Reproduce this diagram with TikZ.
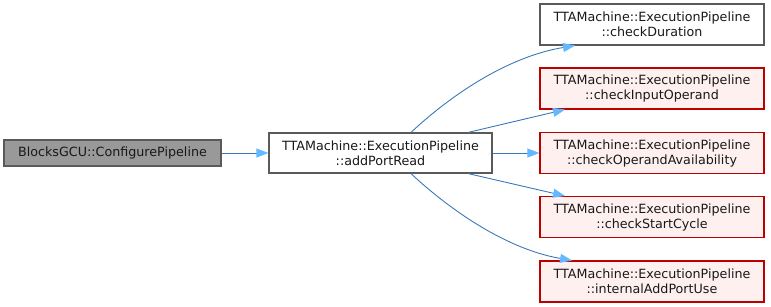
\documentclass[tikz,border=0pt]{standalone}
\usepackage{fontspec}
\setmainfont{DejaVu Sans}
\usetikzlibrary{arrows.meta}
\definecolor{edgeblue}{HTML}{3A78B8}
\definecolor{headblue}{HTML}{63B8FF}
\definecolor{boxgray}{HTML}{5A5A5A}
\definecolor{focusfill}{HTML}{999999}
\definecolor{trunc}{HTML}{BB0000}
\definecolor{truncfill}{HTML}{FFF0F0}
\tikzset{
  fn/.style={draw=boxgray, fill=white, line width=1.1pt, inner sep=0pt,
    align=center, text=black!90, font=\fontsize{12.7}{15}\selectfont},
  focus/.style={fn, fill=focusfill, minimum width=217pt, minimum height=26pt},
  callee/.style={fn, minimum width=224pt, minimum height=41pt},
  cut/.style={callee, draw=trunc, fill=truncfill},
  call/.style={draw=edgeblue, line width=0.9pt,
    -{Triangle[length=12pt,width=9pt,fill=headblue,color=headblue]}}
}
\begin{document}
\begin{tikzpicture}[x=1pt,y=-1pt]
  \useasboundingbox (0,0) rectangle (771,307);
  % caller and the function itself
  \node[focus] (gcu) at (112.5,153) {BlocksGCU::ConfigurePipeline};
  \node[fn, minimum width=223pt, minimum height=40pt] (apr) at (380.5,153)
    {TTAMachine::ExecutionPipeline\\::addPortRead};
  % callees
  \node[callee] (cd)  at (652,24.5)  {TTAMachine::ExecutionPipeline\\::checkDuration};
  \node[cut]    (cio) at (652,88.5)  {TTAMachine::ExecutionPipeline\\::checkInputOperand};
  \node[cut]    (coa) at (652,153)   {TTAMachine::ExecutionPipeline\\::checkOperandAvailability};
  \node[cut]    (csc) at (652,217)   {TTAMachine::ExecutionPipeline\\::checkStartCycle};
  \node[cut]    (iap) at (652,281.5) {TTAMachine::ExecutionPipeline\\::internalAddPortUse};
  % calls
  \draw[call] (gcu.east) -- (apr.west);
  \draw[call] ([xshift=30.5pt]apr.north) .. controls (440,105) and (500,58) .. ([xshift=-77pt]cd.south);
  \draw[call] ([xshift=87.5pt]apr.north) -- ([xshift=-87pt]cio.south);
  \draw[call] (apr.east) -- (coa.west);
  \draw[call] ([xshift=87.5pt]apr.south) -- ([xshift=-87pt]csc.north);
  \draw[call] ([xshift=30.5pt]apr.south) .. controls (440,201) and (500,248) .. ([xshift=-80pt]iap.north);
\end{tikzpicture}
\end{document}
